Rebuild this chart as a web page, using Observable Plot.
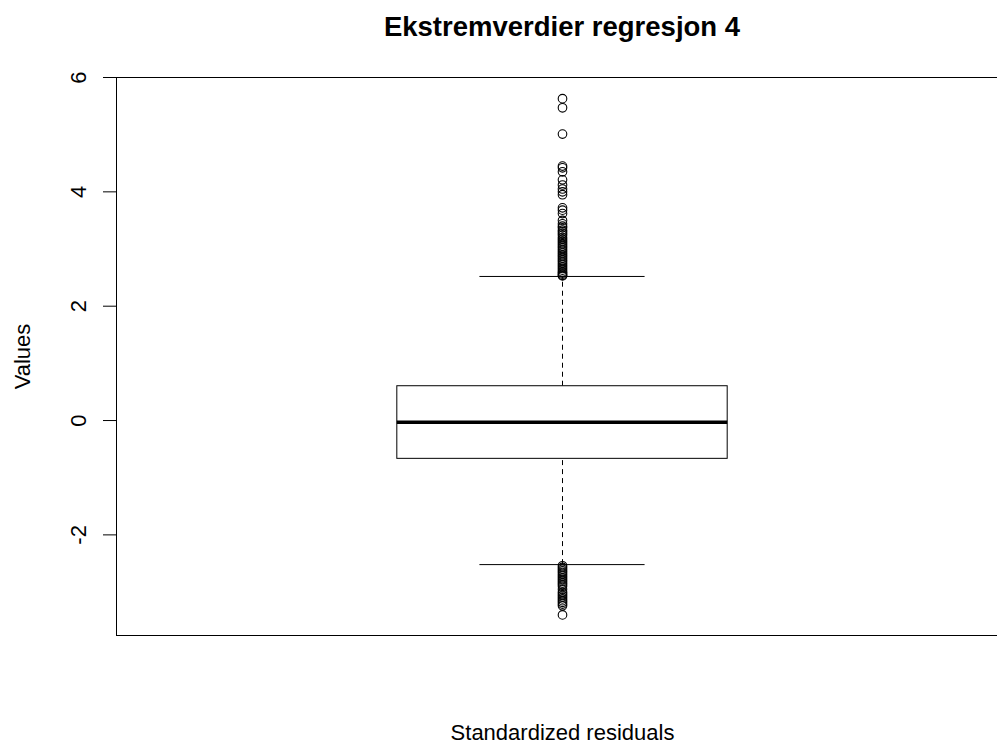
<!DOCTYPE html>
<html><head><meta charset="utf-8">
<script src="https://cdn.jsdelivr.net/npm/d3@7"></script>
<script src="https://cdn.jsdelivr.net/npm/@observablehq/plot@0.6"></script>
<style>
html,body{margin:0;padding:0;background:#fff;overflow:hidden;width:997px;height:749px;}
#title{position:absolute;left:0;top:0;width:1124px;height:54px;line-height:54px;text-align:center;font-family:"Liberation Sans",Arial,sans-serif;font-weight:bold;font-size:27.5px;color:#000;white-space:nowrap;}
#chart{position:absolute;left:0;top:54px;width:1010px;}
#chart svg{max-width:none !important;width:1010px !important;height:695px !important;}
</style></head>
<body>
<div id="title">Ekstremverdier regresjon 4</div>
<div id="chart"></div>
<script>
const categories = ["Standardized residuals"];
const yLabel = "Values";
const yTicks = [-2, 0, 2, 4, 6];
const q1 = [-0.67];
const median = [-0.03];
const q3 = [0.60];
const whiskerLow = [-2.52];
const whiskerHigh = [2.52];
const outliersHigh = [5.63, 5.47, 5.01, 4.45, 4.42, 4.35, 4.21, 4.12, 4.05, 4.00, 3.95, 3.72, 3.68, 3.62, 3.50, 3.44, 3.40, 3.37, 3.33, 3.30, 3.27, 3.24, 3.20, 3.17, 3.14, 3.11, 3.08, 3.05, 3.02, 2.99, 2.96, 2.93, 2.90, 2.87, 2.84, 2.81, 2.78, 2.75, 2.72, 2.69, 2.66, 2.63, 2.60, 2.58, 2.56, 2.54, 2.53];
const outliersLow = [-2.54, -2.57, -2.60, -2.63, -2.66, -2.69, -2.72, -2.75, -2.78, -2.81, -2.84, -2.87, -2.90, -2.95, -3.00, -3.03, -3.06, -3.09, -3.12, -3.15, -3.18, -3.21, -3.24, -3.40];

const stats = categories.map((c, i) => ({
  name: c, pos: i + 1, q1: q1[i], med: median[i], q3: q3[i], lo: whiskerLow[i], hi: whiskerHigh[i]
}));
const outliers = categories.flatMap((c, i) =>
  outliersHigh.concat(outliersLow).map(v => ({pos: i + 1, value: v})));

const font = '"Liberation Sans", Arial, sans-serif';
const chart = Plot.plot({
  width: 1010,
  height: 695,
  marginLeft: 116,
  marginRight: 2,
  marginTop: 23,
  marginBottom: 114,
  style: {fontFamily: font, fontSize: "22px", color: "#000", background: "#fff", overflow: "visible"},
  x: {domain: [0.46, 1.54], axis: null},
  y: {domain: [-3.76, 6.0], axis: null},
  marks: [
    Plot.ruleX(stats, {x: "pos", y1: "q3", y2: "hi", stroke: "#000", strokeDasharray: "5,4", strokeWidth: 1}),
    Plot.ruleX(stats, {x: "pos", y1: "lo", y2: "q1", stroke: "#000", strokeDasharray: "5,4", strokeWidth: 1}),
    Plot.ruleY(stats, {y: "hi", x1: d => d.pos - 0.1, x2: d => d.pos + 0.1, stroke: "#000", strokeWidth: 1}),
    Plot.ruleY(stats, {y: "lo", x1: d => d.pos - 0.1, x2: d => d.pos + 0.1, stroke: "#000", strokeWidth: 1}),
    Plot.rect(stats, {x1: d => d.pos - 0.2, x2: d => d.pos + 0.2, y1: "q1", y2: "q3", fill: "#fff", stroke: "#000", strokeWidth: 1}),
    Plot.ruleY(stats, {y: "med", x1: d => d.pos - 0.2, x2: d => d.pos + 0.2, stroke: "#000", strokeWidth: 3.5}),
    Plot.dot(outliers, {x: "pos", y: "value", r: 4.3, stroke: "#000", fill: "none", strokeWidth: 1.1}),
    Plot.frame({stroke: "#000", strokeWidth: 1}),
    Plot.axisY({ticks: yTicks, tickFormat: d => String(d), tickSize: 13, tickRotate: -90, tickPadding: 18, fontSize: 22, stroke: "#000", fill: "#000", label: null}),
    Plot.text([yLabel], {frameAnchor: "left", textAnchor: "middle", dx: -94, rotate: -90, fontSize: 22, fill: "#000"}),
    Plot.text(categories, {frameAnchor: "bottom", dy: 104, fontSize: 22, fill: "#000"})
  ]
});
document.getElementById("chart").appendChild(chart);
</script>
</body></html>
